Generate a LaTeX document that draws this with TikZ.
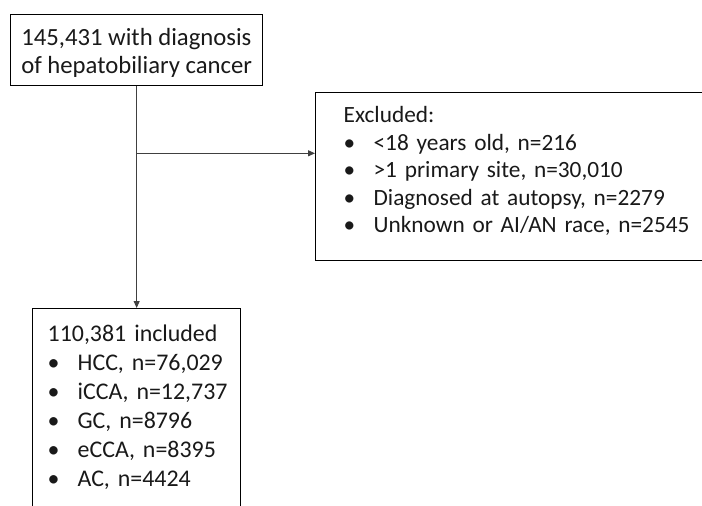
\documentclass[tikz,border=0pt]{standalone}
\usepackage{fontspec}
\setmainfont{Carlito}
\usetikzlibrary{arrows.meta}
\newcommand\bul[1]{\mbox{\makebox[30pt][l]{\textbullet}#1}}
\tikzset{
  box/.style={
    draw,
    line width=1.3pt,
    anchor=north west,
    align=left,
    inner ysep=0pt,
    text=black!90
  },
  rel/.style={-{Triangle[length=7pt,width=6pt]}, line width=1pt, draw=black!75}
}

\begin{document}
\begin{tikzpicture}[x=1pt,y=-1pt]
  \useasboundingbox (0,0) rectangle (702,506);
  \clip (0,0) rectangle (702,506);

  \node[box, font=\fontsize{24.7}{28}\selectfont, minimum width=252pt, inner xsep=0pt, text height=59pt, text depth=12pt] (diag) at (10,14) {145,431 with diagnosis\\of hepatobiliary cancer};
  \node[box, font=\fontsize{23.3}{27.5}\selectfont, text width=344pt, inner xsep=28pt, text height=30pt, text depth=138pt] (excl) at (315,92) {Excluded:\\\bul{<18 years old, n=216}\\\bul{>1 primary site, n=30,010}\\\bul{Diagnosed at autopsy, n=2279}\\\bul{Unknown or AI/AN race, n=2545}};
  \node[box, font=\fontsize{23.9}{29}\selectfont, text width=178pt, inner xsep=15pt, text height=33pt, text depth=230pt] (incl) at (32,308) {\mbox{110,381 included}\\\bul{HCC, n=76,029}\\\bul{iCCA, n=12,737}\\\bul{GC, n=8796}\\\bul{eCCA, n=8395}\\\bul{AC, n=4424}};

  \coordinate (split) at ([yshift=-67pt]diag.south);
  \draw[rel] (diag.south) -- (incl.north);
  \draw[rel] (split) -- (split -| excl.west);
\end{tikzpicture}
\end{document}
